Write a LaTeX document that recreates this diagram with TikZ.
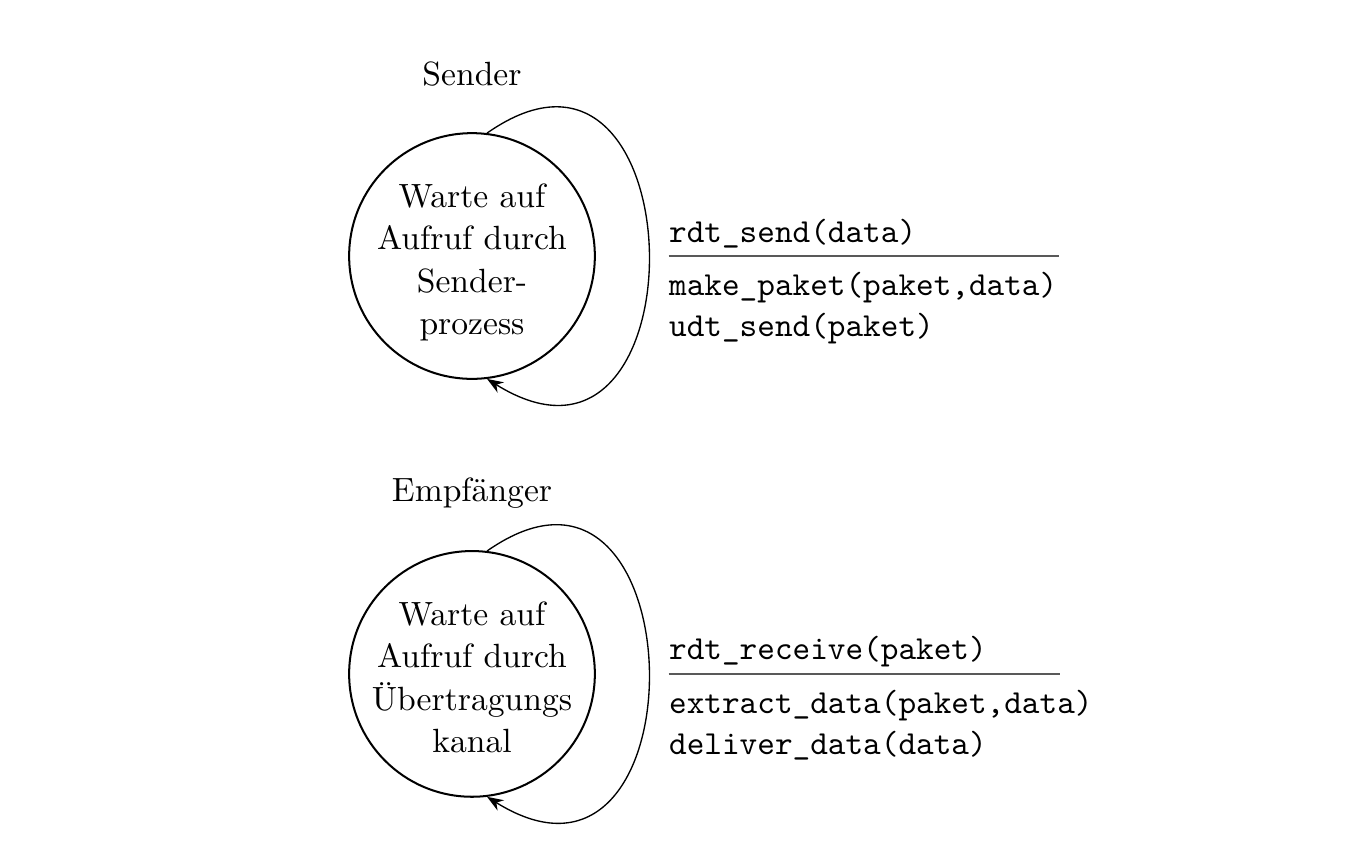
\documentclass[tikz,border=0pt]{standalone}
\usepackage{tikz}
\usetikzlibrary{arrows.meta, positioning}
\tikzstyle{zustand} = [circle, draw=black, semithick, minimum size=2.57cm, inner sep=-6pt, align=center, font=\fontsize{10}{12.6}\selectfont, text height=46.7pt, text depth=0pt]
\tikzstyle{titel} = [text depth=0pt]
\tikzstyle{befehl} = [font=\ttfamily, inner sep=0pt, anchor=base west]
\tikzstyle{strich} = [thin, draw=black!65]
\tikzstyle{schleife} = [thin,->,>=Stealth]

\begin{document}
\begin{tikzpicture}
    \useasboundingbox (-4.937,-6.360) rectangle (9.372,2.678);
    \node (send) [zustand] {Warte auf\\Aufruf durch\\Sender-\\prozess};
    \node (recv) [zustand, below=1.78cm of send] {Warte auf\\Aufruf durch\\Übertragungs\\kanal};
    \node (sendname) [titel, above=0.36cm of send] {Sender};
    \node (recvname) [titel, above=0.38cm of recv] {Empfänger};

    % Schleifen
    \draw [schleife] (send.83) to[out=35, in=-32, looseness=2.69] (send.-83);
    \draw [schleife] (recv.83) to[out=35, in=-32, looseness=2.69] (recv.-83);

    % Sender: Ereignis / Aktionen
    \coordinate [right=0.76cm of send] (sendlinks);
    \coordinate [right=4.08cm of sendlinks] (sendrechts);
    \draw [strich] (sendlinks) -- (sendrechts);
    \node (sendtrig) [befehl] at ([yshift=1.46mm]sendlinks) {rdt\_send(data)};
    \node (sendakt1) [befehl] at ([yshift=-4.1mm]sendlinks) {make\_paket(paket,data)};
    \node (sendakt2) [befehl] at ([yshift=-8.4mm]sendlinks) {udt\_send(paket)};

    % Empfaenger: Ereignis / Aktionen
    \coordinate [right=0.76cm of recv] (recvlinks);
    \coordinate [right=4.1cm of recvlinks] (recvrechts);
    \draw [strich] (recvlinks) -- (recvrechts);
    \node (recvtrig) [befehl] at ([yshift=1.46mm]recvlinks) {rdt\_receive(paket)};
    \node (recvakt1) [befehl] at ([yshift=-4.1mm]recvlinks) {extract\_data(paket,data)};
    \node (recvakt2) [befehl] at ([yshift=-8.4mm]recvlinks) {deliver\_data(data)};
\end{tikzpicture}
\end{document}
